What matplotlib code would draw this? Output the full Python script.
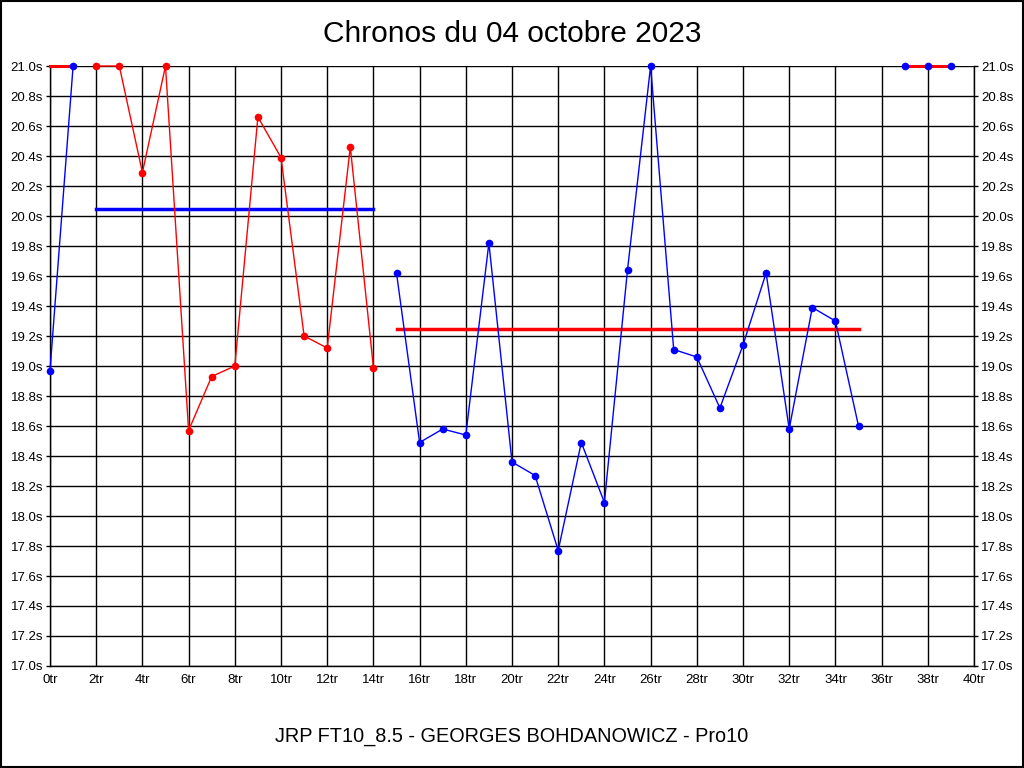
import numpy as np
import matplotlib
matplotlib.use("Agg")
import matplotlib.pyplot as plt

plt.rcParams['font.family'] = ['Liberation Sans', 'DejaVu Sans']

# lap times (values above 21.0 are clipped at the top)
red_laps = [2, 3, 4, 5, 6, 7, 8, 9, 10, 11, 12, 13, 14]
red_times = [21.0, 21.0, 20.29, 21.0, 18.57, 18.93, 19.0, 20.66, 20.39, 19.2, 19.12, 20.46, 18.99]

blue_start_laps = [0, 1]
blue_start_times = [18.97, 21.0]

blue_laps = list(range(15, 36))
blue_times = [19.62, 18.49, 18.58, 18.54, 19.82, 18.36, 18.27, 17.77, 18.49, 18.09,
              19.64, 21.0, 19.11, 19.06, 18.72, 19.14, 19.62, 18.58, 19.39, 19.30, 18.60]

end_laps = [37, 38, 39]
end_times = [21.0, 21.0, 21.0]

red_top_laps = [0, 1]
red_top_times = [21.0, 21.0]

# averages
red_avg_span = [2, 14]
red_avg = 20.05   # drawn in blue
blue_avg_span = [15, 35]
blue_avg = 19.25  # drawn in red

xticks = np.arange(0, 41, 2)
yticks = np.arange(17.0, 21.01, 0.2)

fig = plt.figure(figsize=(10.24, 7.68), dpi=100)
ax = fig.add_axes([50/1024, 102/768, 924/1024, 600/768])

ax.set_xlim(0, 40)
ax.set_ylim(17.0, 21.0)
ax.set_xticks(xticks)
ax.set_xticklabels([f"{x}tr" for x in xticks], fontsize=9.5)
ax.set_yticks(yticks)
ax.set_yticklabels([f"{y:.1f}s" for y in yticks], fontsize=9.5)
ax.tick_params(axis='x', length=0, pad=6)
ax.tick_params(axis='y', length=3, width=1, pad=2, right=True, labelright=True)
ax.grid(True, color='black', linewidth=1)
ax.spines['top'].set_visible(False)
for s in ['left', 'right', 'bottom']:
    ax.spines[s].set_linewidth(1)

ax.plot(red_top_laps, red_top_times, color='red', linewidth=2.2, clip_on=False, zorder=3)
ax.plot(red_laps, red_times, color='red', linewidth=1, marker='o', markersize=4.5,
        clip_on=False, zorder=4)
ax.plot(blue_start_laps, blue_start_times, color='blue', linewidth=1, marker='o',
        markersize=4.5, clip_on=False, zorder=4)
ax.plot(blue_laps, blue_times, color='blue', linewidth=1, marker='o', markersize=4.5,
        clip_on=False, zorder=4)
ax.plot(end_laps, end_times, color='red', linewidth=2.2, clip_on=False, zorder=3)
ax.plot(end_laps, end_times, color='blue', linestyle='none', marker='o', markersize=4.5,
        clip_on=False, zorder=4)

ax.plot(red_avg_span, [red_avg, red_avg], color='blue', linewidth=2.5, zorder=3)
ax.plot(blue_avg_span, [blue_avg, blue_avg], color='red', linewidth=2.5, zorder=3)

fig.text(0.5, 1 - 34/768, "Chronos du 04 octobre 2023", ha='center', va='center', fontsize=21.5)
fig.text(0.5, 1 - 736/768, "JRP FT10_8.5 - GEORGES BOHDANOWICZ - Pro10", ha='center',
         va='center', fontsize=14.3)

fig.patches.append(plt.Rectangle((0.001, 0.001), 0.998, 0.998, transform=fig.transFigure,
                                 fill=False, edgecolor='black', linewidth=1.5))

fig.savefig("out.png", dpi=100)
